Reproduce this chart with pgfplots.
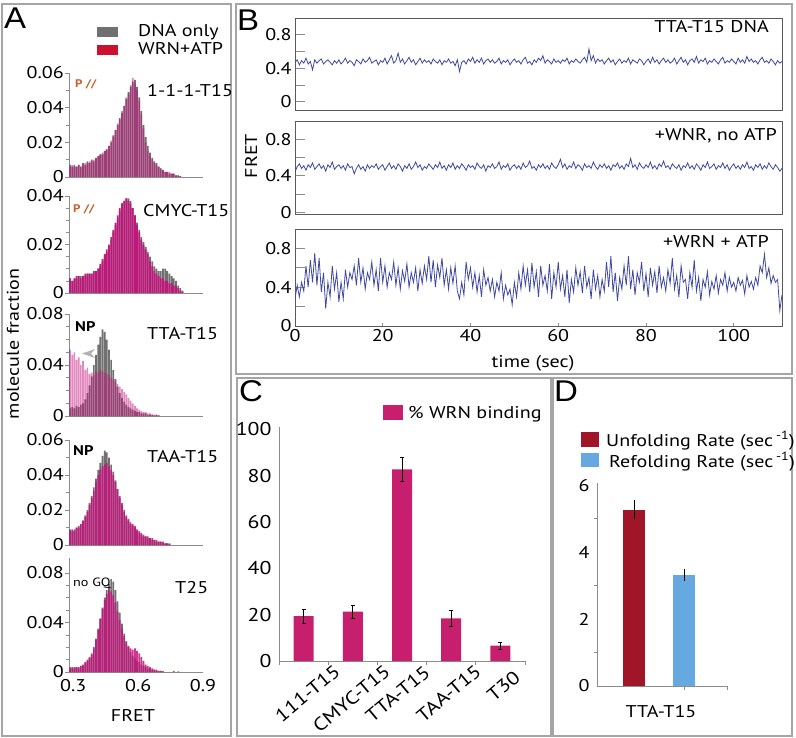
\documentclass[border=0pt]{standalone}
\usepackage{pgfplots}
\pgfplotsset{compat=1.18}
\usepackage{pgfplotstable}
\usepackage{fontspec}
\setmainfont{PT Sans}[FakeStretch=1.18]
\newfontfamily\letterfont{Liberation Sans}[FakeStretch=1.1]
\newcommand\fs{\fontsize{17}{19}\selectfont}
\newcommand\fc{\fontsize{18.5}{20}\selectfont}
\definecolor{dnagray}{RGB}{112,112,112}
\definecolor{wrnmag}{RGB}{196,20,124}
\definecolor{legred}{RGB}{204,16,48}
\definecolor{barmag}{RGB}{200,30,110}
\definecolor{unfold}{RGB}{160,22,40}
\definecolor{refold}{RGB}{102,168,224}
\definecolor{trace}{RGB}{62,72,160}
\definecolor{axgray}{RGB}{140,140,140}
\definecolor{boxgray}{RGB}{90,90,90}
\definecolor{framegray}{RGB}{165,165,165}
\definecolor{pcol}{RGB}{200,96,44}

\pgfplotstableread{
x g m
0.285 0.007 0.006
0.295 0.006 0.007
0.305 0.007 0.006
0.315 0.006 0.006
0.325 0.007 0.007
0.335 0.006 0.006
0.345 0.008 0.007
0.355 0.007 0.008
0.365 0.009 0.008
0.375 0.008 0.009
0.385 0.010 0.009
0.395 0.009 0.010
0.405 0.011 0.011
0.415 0.012 0.012
0.425 0.013 0.013
0.435 0.013 0.014
0.445 0.015 0.015
0.455 0.016 0.016
0.465 0.018 0.018
0.475 0.020 0.021
0.485 0.024 0.023
0.495 0.027 0.027
0.505 0.030 0.031
0.515 0.034 0.033
0.525 0.037 0.038
0.535 0.041 0.041
0.545 0.045 0.046
0.555 0.049 0.048
0.565 0.052 0.053
0.575 0.055 0.057
0.585 0.056 0.054
0.595 0.052 0.050
0.605 0.046 0.044
0.615 0.038 0.036
0.625 0.030 0.028
0.635 0.023 0.020
0.645 0.018 0.015
0.655 0.014 0.012
0.665 0.011 0.010
0.675 0.009 0.008
0.685 0.008 0.007
0.695 0.006 0.006
0.705 0.005 0.005
0.715 0.004 0.004
0.725 0.003 0.003
0.735 0.003 0.003
0.745 0.002 0.003
0.755 0.002 0.002
0.765 0.002 0.002
0.775 0.001 0.001
0.785 0.001 0.001
0.795 0.0005 0.0005
}\hA

\pgfplotstableread{
x g m
0.285 0.006 0.006
0.295 0.005 0.005
0.305 0.006 0.006
0.315 0.006 0.007
0.325 0.007 0.007
0.335 0.007 0.006
0.345 0.007 0.007
0.355 0.007 0.008
0.365 0.008 0.008
0.375 0.008 0.008
0.385 0.008 0.008
0.395 0.009 0.009
0.405 0.009 0.009
0.415 0.010 0.010
0.425 0.011 0.012
0.435 0.013 0.014
0.445 0.015 0.016
0.455 0.017 0.018
0.465 0.019 0.020
0.475 0.022 0.023
0.485 0.025 0.026
0.495 0.028 0.029
0.505 0.031 0.032
0.515 0.034 0.035
0.525 0.037 0.037
0.535 0.038 0.038
0.545 0.039 0.039
0.555 0.039 0.038
0.565 0.038 0.037
0.575 0.035 0.035
0.585 0.032 0.032
0.595 0.029 0.028
0.605 0.026 0.025
0.615 0.023 0.022
0.625 0.021 0.020
0.635 0.019 0.018
0.645 0.017 0.016
0.655 0.015 0.013
0.665 0.013 0.011
0.675 0.011 0.009
0.685 0.010 0.008
0.695 0.009 0.007
0.705 0.009 0.006
0.715 0.010 0.006
0.725 0.010 0.005
0.735 0.009 0.005
0.745 0.008 0.004
0.755 0.007 0.004
0.765 0.006 0.003
0.775 0.005 0.003
0.785 0.003 0.002
0.795 0.002 0.001
0.805 0.001 0.0005
}\hB

\pgfplotstableread{
x g m
0.285 0.006 0.052
0.295 0.007 0.048
0.305 0.006 0.050
0.315 0.008 0.044
0.325 0.007 0.046
0.335 0.009 0.040
0.345 0.010 0.043
0.355 0.013 0.036
0.365 0.018 0.038
0.375 0.024 0.033
0.385 0.031 0.034
0.395 0.040 0.032
0.405 0.048 0.035
0.415 0.056 0.034
0.425 0.062 0.036
0.435 0.068 0.035
0.445 0.066 0.034
0.455 0.060 0.033
0.465 0.052 0.032
0.475 0.044 0.030
0.485 0.036 0.029
0.495 0.029 0.027
0.505 0.023 0.025
0.515 0.018 0.023
0.525 0.014 0.021
0.535 0.011 0.019
0.545 0.009 0.017
0.555 0.007 0.014
0.565 0.006 0.012
0.575 0.005 0.010
0.585 0.004 0.008
0.595 0.003 0.006
0.605 0.003 0.005
0.615 0.002 0.004
0.625 0.002 0.003
0.635 0.002 0.003
0.645 0.001 0.002
0.655 0.001 0.002
0.665 0.001 0.001
0.675 0.0005 0.001
0.685 0.001 0.0005
0.695 0.0005 0.0005
}\hC

\pgfplotstableread{
x g m
0.285 0.008 0.009
0.295 0.009 0.008
0.305 0.008 0.009
0.315 0.010 0.010
0.325 0.010 0.011
0.335 0.012 0.012
0.345 0.014 0.014
0.355 0.017 0.016
0.365 0.020 0.019
0.375 0.024 0.023
0.385 0.028 0.027
0.395 0.033 0.031
0.405 0.038 0.036
0.415 0.043 0.040
0.425 0.047 0.043
0.435 0.051 0.045
0.445 0.054 0.046
0.455 0.053 0.047
0.465 0.050 0.045
0.475 0.046 0.043
0.485 0.042 0.040
0.495 0.037 0.036
0.505 0.032 0.032
0.515 0.027 0.028
0.525 0.023 0.024
0.535 0.019 0.020
0.545 0.016 0.017
0.555 0.014 0.015
0.565 0.012 0.013
0.575 0.011 0.012
0.585 0.010 0.011
0.595 0.008 0.009
0.605 0.007 0.008
0.615 0.006 0.007
0.625 0.005 0.006
0.635 0.005 0.005
0.645 0.004 0.005
0.655 0.004 0.004
0.665 0.003 0.004
0.675 0.003 0.003
0.685 0.002 0.003
0.695 0.002 0.002
0.705 0.002 0.002
0.715 0.001 0.002
0.725 0.001 0.001
0.735 0.001 0.001
0.745 0.0005 0.001
}\hD

\pgfplotstableread{
x g m
0.285 0.004 0.003
0.295 0.003 0.004
0.305 0.004 0.003
0.315 0.004 0.004
0.325 0.003 0.004
0.335 0.005 0.005
0.345 0.005 0.006
0.355 0.007 0.008
0.365 0.009 0.010
0.375 0.011 0.012
0.385 0.014 0.015
0.395 0.019 0.020
0.405 0.026 0.027
0.415 0.034 0.035
0.425 0.043 0.043
0.435 0.052 0.051
0.445 0.060 0.058
0.455 0.066 0.063
0.465 0.071 0.066
0.475 0.075 0.065
0.485 0.073 0.062
0.495 0.066 0.056
0.505 0.057 0.049
0.515 0.048 0.042
0.525 0.039 0.035
0.535 0.031 0.029
0.545 0.025 0.024
0.555 0.020 0.021
0.565 0.016 0.019
0.575 0.013 0.018
0.585 0.011 0.019
0.595 0.009 0.017
0.605 0.008 0.015
0.615 0.006 0.012
0.625 0.005 0.009
0.635 0.004 0.006
0.645 0.003 0.005
0.655 0.003 0.004
0.665 0.002 0.003
0.675 0.002 0.002
0.685 0.001 0.002
0.695 0.001 0.001
0.705 0.001 0.001
0.715 0.0005 0.0005
0.765 0.001 0
0.785 0.0005 0
}\hE

\pgfplotsset{
 base/.style={scale only axis, anchor=south west,
   /pgf/number format/assume math mode=true,
   tick label style={font=\fs}, scaled ticks=false,
   /pgf/number format/fixed},
 histA/.style={base, width=134pt, xmin=0.28, xmax=0.9, ymin=0,
   axis x line=bottom, axis y line=left,
   axis line style={-, draw=axgray, line width=0.8pt},
   xtick=\empty, tick align=outside,
   major tick length=4pt, minor tick length=3pt,
   tick style={draw=axgray, line width=0.6pt},
   yticklabel style={inner sep=1pt, /pgf/number format/precision=2}},
 gbar/.style={ybar, bar shift=0pt, bar width=0.0078, fill=dnagray, draw=none},
 mbar/.style={ybar, bar shift=0pt, bar width=0.0078, fill=wrnmag, draw=none, fill opacity=#1},
 traceB/.style={base, width=487pt, xmin=0, xmax=111,
   axis line style={draw=boxgray, line width=0.8pt},
   ytick={0,0.4,0.8}, minor ytick={0.2,0.6}, ytick pos=left,
   tick align=inside, major tick length=10pt, minor tick length=10pt,
   tick style={draw=axgray, line width=0.6pt},
   yticklabel style={/pgf/number format/precision=1}},
}

\begin{document}
\begin{tikzpicture}
\path[use as bounding box] (0pt,0pt) rectangle (796pt,-738pt);
% panel frames
\draw[framegray, line width=1.2pt] (2pt,-4pt) rectangle (231pt,-736pt);
\draw[framegray, line width=1.2pt] (236pt,-4pt) rectangle (792pt,-374pt);
\draw[framegray, line width=1.2pt] (237pt,-378pt) rectangle (551pt,-736pt);
\draw[framegray, line width=1.2pt] (553pt,-378pt) rectangle (792pt,-736pt);
% panel letters
\node[font=\letterfont\fontsize{30}{30}\selectfont, anchor=base west, inner sep=0pt] at (4pt,-29pt) {A};
\node[font=\letterfont\fontsize{30}{30}\selectfont, anchor=base west, inner sep=0pt] at (237pt,-31pt) {B};
\node[font=\letterfont\fontsize{30}{30}\selectfont, anchor=base west, inner sep=0pt] at (239pt,-402pt) {C};
\node[font=\letterfont\fontsize{30}{30}\selectfont, anchor=base west, inner sep=0pt] at (554pt,-402pt) {D};

% ---------------- Panel A ----------------
\fill[dnagray] (97pt,-27pt) rectangle (118pt,-37pt);
\fill[legred] (97pt,-45pt) rectangle (118pt,-55pt);
\node[font=\fs, anchor=base west, inner sep=0pt] at (138pt,-37pt) {DNA only};
\node[font=\fs, anchor=base west, inner sep=0pt] at (138pt,-55pt) {WRN+ATP};

\begin{axis}[histA, at={(69pt,-177pt)}, height=104pt, ymax=0.06,
  ytick={0,0.02,0.04,0.06}, minor ytick={0.01,0.03,0.05}]
\addplot[gbar] table[x=x,y=g]{\hA};
\addplot[mbar=0.55] table[x=x,y=m]{\hA};
\end{axis}
\node[font=\bfseries\fontsize{11}{11}\selectfont, text=pcol, anchor=base west, inner sep=0pt] at (75pt,-88pt) {P //};
\node[font=\fs, anchor=base west, inner sep=0pt] at (147pt,-97pt) {1-1-1-T15};

\begin{axis}[histA, at={(69pt,-293pt)}, height=97pt, ymax=0.04,
  ytick={0,0.02,0.04}, minor ytick={0.005,0.01,0.015,0.025,0.03,0.035}]
\addplot[gbar] table[x=x,y=g]{\hB};
\addplot[mbar=0.95] table[x=x,y=m]{\hB};
\end{axis}
\node[font=\bfseries\fontsize{11}{11}\selectfont, text=pcol, anchor=base west, inner sep=0pt] at (73pt,-213pt) {P //};
\node[font=\fs, anchor=base west, inner sep=0pt] at (143pt,-217pt) {CMYC-T15};

\begin{axis}[histA, at={(69pt,-416pt)}, height=102pt, ymax=0.08,
  ytick={0,0.04,0.08}, minor ytick={0.01,0.02,0.03,0.05,0.06,0.07}]
\addplot[gbar] table[x=x,y=g]{\hC};
\addplot[mbar=0.5] table[x=x,y=m]{\hC};
\end{axis}
\node[font=\bfseries\fontsize{14}{14}\selectfont, anchor=base west, inner sep=0pt] at (75pt,-331pt) {NP};
\node[font=\fs, anchor=base west, inner sep=0pt] at (147pt,-340pt) {TTA-T15};
\fill[gray!60] (95pt,-349pt) -- (82pt,-353.5pt) -- (95pt,-358pt) -- (91pt,-353.5pt) -- cycle;

\begin{axis}[histA, at={(69pt,-545pt)}, height=105pt, ymax=0.06,
  ytick={0,0.02,0.04,0.06}, minor ytick={0.01,0.03,0.05}]
\addplot[gbar] table[x=x,y=g]{\hD};
\addplot[mbar=0.85] table[x=x,y=m]{\hD};
\end{axis}
\node[font=\bfseries\fontsize{14}{14}\selectfont, anchor=base west, inner sep=0pt] at (73pt,-455pt) {NP};
\node[font=\fs, anchor=base west, inner sep=0pt] at (147pt,-462pt) {TAA-T15};

\begin{axis}[histA, at={(69pt,-672pt)}, height=114pt, ymax=0.092,
  ytick={0,0.04,0.08}, minor ytick={0.01,0.02,0.03,0.05,0.06,0.07},
  xtick={0.3,0.6,0.9}, major x tick style={draw=none},
  xticklabel style={/pgf/number format/precision=1}]
\addplot[gbar] table[x=x,y=g]{\hE};
\addplot[mbar=0.85] table[x=x,y=m]{\hE};
\end{axis}
\node[font=\fontsize{12}{12}\selectfont, anchor=base west, inner sep=0pt] at (73pt,-586pt) {no GQ};
\node[font=\fs, anchor=base west, inner sep=0pt] at (175pt,-593pt) {T25};
\node[font=\fs] at (133pt,-715pt) {FRET};
\node[font=\fs, rotate=90] at (13pt,-344pt) {molecule fraction};

% ---------------- Panel B ----------------
\begin{axis}[traceB, at={(295pt,-110pt)}, height=92pt, ymin=-0.1, ymax=1, xtick=\empty]
\addplot[trace, line width=0.8pt] coordinates {
(0,0.47)(0.5,0.50)(1,0.44)(1.5,0.49)(2,0.46)(2.5,0.52)(3,0.45)(3.5,0.48)(4,0.38)(4.5,0.50)
(5,0.46)(5.5,0.49)(6,0.51)(6.5,0.45)(7,0.48)(7.5,0.50)(8,0.47)(8.5,0.44)(9,0.49)(9.5,0.46)
(10,0.50)(10.5,0.45)(11,0.48)(11.5,0.52)(12,0.46)(12.5,0.49)(13,0.47)(13.5,0.43)(14,0.50)(14.5,0.48)
(15,0.45)(15.5,0.51)(16,0.47)(16.5,0.49)(17,0.53)(17.5,0.46)(18,0.48)(18.5,0.50)(19,0.44)(19.5,0.49)
(20,0.47)(20.5,0.52)(21,0.45)(21.5,0.50)(22,0.55)(22.5,0.46)(23,0.49)(23.5,0.58)(24,0.47)(24.5,0.51)
(25,0.45)(25.5,0.49)(26,0.53)(26.5,0.47)(27,0.50)(27.5,0.44)(28,0.48)(28.5,0.52)(29,0.46)(29.5,0.50)
(30,0.47)(30.5,0.49)(31,0.45)(31.5,0.51)(32,0.48)(32.5,0.46)(33,0.50)(33.5,0.44)(34,0.49)(34.5,0.47)
(35,0.51)(35.5,0.46)(36,0.48)(36.5,0.43)(37,0.50)(37.5,0.36)(38,0.47)(38.5,0.49)(39,0.45)(39.5,0.51)
(40,0.48)(40.5,0.53)(41,0.46)(41.5,0.50)(42,0.47)(42.5,0.52)(43,0.45)(43.5,0.49)(44,0.51)(44.5,0.47)
(45,0.50)(45.5,0.46)(46,0.48)(46.5,0.52)(47,0.45)(47.5,0.49)(48,0.47)(48.5,0.50)(49,0.44)(49.5,0.48)
(50,0.51)(50.5,0.47)(51,0.49)(51.5,0.45)(52,0.50)(52.5,0.53)(53,0.46)(53.5,0.48)(54,0.44)(54.5,0.50)
(55,0.47)(55.5,0.52)(56,0.49)(56.5,0.55)(57,0.46)(57.5,0.50)(58,0.48)(58.5,0.45)(59,0.51)(59.5,0.47)
(60,0.49)(60.5,0.46)(61,0.50)(61.5,0.48)(62,0.52)(62.5,0.45)(63,0.49)(63.5,0.47)(64,0.51)(64.5,0.48)
(65,0.46)(65.5,0.50)(66,0.53)(66.5,0.47)(67,0.63)(67.5,0.49)(68,0.55)(68.5,0.46)(69,0.51)(69.5,0.48)
(70,0.50)(70.5,0.45)(71,0.49)(71.5,0.52)(72,0.47)(72.5,0.50)(73,0.44)(73.5,0.48)(74,0.51)(74.5,0.46)
(75,0.49)(75.5,0.47)(76,0.52)(76.5,0.45)(77,0.50)(77.5,0.48)(78,0.46)(78.5,0.51)(79,0.49)(79.5,0.44)
(80,0.48)(80.5,0.51)(81,0.46)(81.5,0.53)(82,0.47)(82.5,0.50)(83,0.45)(83.5,0.49)(84,0.52)(84.5,0.47)
(85,0.50)(85.5,0.46)(86,0.48)(86.5,0.52)(87,0.45)(87.5,0.49)(88,0.53)(88.5,0.47)(89,0.50)(89.5,0.44)
(90,0.49)(90.5,0.51)(91,0.47)(91.5,0.54)(92,0.46)(92.5,0.50)(93,0.48)(93.5,0.52)(94,0.45)(94.5,0.49)
(95,0.47)(95.5,0.51)(96,0.48)(96.5,0.45)(97,0.50)(97.5,0.53)(98,0.46)(98.5,0.49)(99,0.47)(99.5,0.51)
(100,0.48)(100.5,0.45)(101,0.52)(101.5,0.47)(102,0.50)(102.5,0.46)(103,0.54)(103.5,0.48)(104,0.51)(104.5,0.47)
(105,0.49)(105.5,0.45)(106,0.50)(106.5,0.53)(107,0.47)(107.5,0.49)(108,0.46)(108.5,0.51)(109,0.48)(109.5,0.44)
(110,0.49)(110.5,0.46)(111,0.48)};
\end{axis}
\node[font=\fs, anchor=base east, inner sep=0pt] at (769pt,-33pt) {TTA-T15 DNA};

\begin{axis}[traceB, at={(295pt,-214pt)}, height=93pt, ymin=-0.02, ymax=1, xtick=\empty]
\addplot[trace, line width=0.8pt] coordinates {
(0,0.44)(0.5,0.50)(1,0.53)(1.5,0.48)(2,0.51)(2.5,0.46)(3,0.52)(3.5,0.49)(4,0.54)(4.5,0.47)
(5,0.50)(5.5,0.53)(6,0.48)(6.5,0.51)(7,0.45)(7.5,0.52)(8,0.49)(8.5,0.55)(9,0.47)(9.5,0.50)
(10,0.52)(10.5,0.48)(11,0.51)(11.5,0.46)(12,0.53)(12.5,0.49)(13,0.50)(13.5,0.42)(14,0.48)(14.5,0.52)
(15,0.47)(15.5,0.50)(16,0.45)(16.5,0.52)(17,0.48)(17.5,0.51)(18,0.49)(18.5,0.53)(19,0.47)(19.5,0.50)
(20,0.52)(20.5,0.46)(21,0.50)(21.5,0.54)(22,0.48)(22.5,0.51)(23,0.47)(23.5,0.53)(24,0.50)(24.5,0.45)
(25,0.51)(25.5,0.48)(26,0.53)(26.5,0.47)(27,0.50)(27.5,0.55)(28,0.49)(28.5,0.52)(29,0.46)(29.5,0.50)
(30,0.48)(30.5,0.53)(31,0.50)(31.5,0.47)(32,0.52)(32.5,0.49)(33,0.55)(33.5,0.48)(34,0.51)(34.5,0.46)
(35,0.52)(35.5,0.49)(36,0.54)(36.5,0.47)(37,0.51)(37.5,0.48)(38,0.53)(38.5,0.50)(39,0.46)(39.5,0.52)
(40,0.49)(40.5,0.51)(41,0.47)(41.5,0.54)(42,0.50)(42.5,0.48)(43,0.52)(43.5,0.45)(44,0.51)(44.5,0.49)
(45,0.53)(45.5,0.48)(46,0.50)(46.5,0.55)(47,0.47)(47.5,0.51)(48,0.49)(48.5,0.53)(49,0.46)(49.5,0.50)
(50,0.52)(50.5,0.48)(51,0.51)(51.5,0.47)(52,0.54)(52.5,0.49)(53,0.51)(53.5,0.56)(54,0.48)(54.5,0.50)
(55,0.46)(55.5,0.52)(56,0.49)(56.5,0.53)(57,0.48)(57.5,0.51)(58,0.47)(58.5,0.54)(59,0.50)(59.5,0.48)
(60,0.52)(60.5,0.58)(61,0.49)(61.5,0.53)(62,0.47)(62.5,0.51)(63,0.49)(63.5,0.55)(64,0.48)(64.5,0.52)
(65,0.50)(65.5,0.46)(66,0.53)(66.5,0.49)(67,0.51)(67.5,0.48)(68,0.55)(68.5,0.50)(69,0.47)(69.5,0.52)
(70,0.49)(70.5,0.53)(71,0.48)(71.5,0.51)(72,0.46)(72.5,0.52)(73,0.50)(73.5,0.54)(74,0.48)(74.5,0.51)
(75,0.47)(75.5,0.53)(76,0.50)(76.5,0.59)(77,0.49)(77.5,0.52)(78,0.47)(78.5,0.54)(79,0.50)(79.5,0.48)
(80,0.52)(80.5,0.49)(81,0.55)(81.5,0.48)(82,0.51)(82.5,0.47)(83,0.53)(83.5,0.50)(84,0.56)(84.5,0.49)
(85,0.51)(85.5,0.47)(86,0.53)(86.5,0.50)(87,0.48)(87.5,0.52)(88,0.46)(88.5,0.51)(89,0.49)(89.5,0.54)
(90,0.48)(90.5,0.51)(91,0.47)(91.5,0.53)(92,0.50)(92.5,0.46)(93,0.52)(93.5,0.49)(94,0.55)(94.5,0.48)
(95,0.50)(95.5,0.53)(96,0.47)(96.5,0.51)(97,0.49)(97.5,0.54)(98,0.48)(98.5,0.52)(99,0.46)(99.5,0.50)
(100,0.53)(100.5,0.48)(101,0.51)(101.5,0.47)(102,0.52)(102.5,0.49)(103,0.55)(103.5,0.48)(104,0.50)(104.5,0.46)
(105,0.52)(105.5,0.49)(106,0.53)(106.5,0.47)(107,0.51)(107.5,0.48)(108,0.54)(108.5,0.50)(109,0.47)(109.5,0.52)
(110,0.49)(110.5,0.45)(111,0.48)};
\end{axis}
\node[font=\fs, anchor=base east, inner sep=0pt] at (777pt,-141pt) {+WNR, no ATP};

\begin{axis}[traceB, at={(295pt,-326pt)}, height=97pt, ymin=0, ymax=1,
  xtick={0,20,40,60,80,100}, xtick pos=bottom, major x tick style={/pgfplots/major tick length=3pt}]
\addplot[trace, line width=0.8pt] coordinates {
(0,0.28)(0.5,0.42)(1,0.30)(1.5,0.45)(2,0.36)(2.5,0.62)(3,0.40)(3.5,0.68)(4,0.45)(4.5,0.75)
(5,0.42)(5.5,0.70)(6,0.35)(6.5,0.55)(7,0.18)(7.5,0.45)(8,0.30)(8.5,0.62)(9,0.38)(9.5,0.55)
(10,0.25)(10.5,0.45)(11,0.28)(11.5,0.58)(12,0.40)(12.5,0.55)(13,0.48)(13.5,0.62)(14,0.42)(14.5,0.70)
(15,0.45)(15.5,0.60)(16,0.38)(16.5,0.55)(17,0.48)(17.5,0.66)(18,0.42)(18.5,0.58)(19,0.36)(19.5,0.70)
(20,0.45)(20.5,0.62)(21,0.40)(21.5,0.55)(22,0.48)(22.5,0.66)(23,0.42)(23.5,0.60)(24,0.38)(24.5,0.57)
(25,0.46)(25.5,0.64)(26,0.40)(26.5,0.55)(27,0.45)(27.5,0.60)(28,0.36)(28.5,0.58)(29,0.44)(29.5,0.62)
(30,0.48)(30.5,0.72)(31,0.45)(31.5,0.68)(32,0.40)(32.5,0.63)(33,0.50)(33.5,0.70)(34,0.42)(34.5,0.58)
(35,0.38)(35.5,0.60)(36,0.44)(36.5,0.62)(37,0.36)(37.5,0.28)(38,0.45)(38.5,0.32)(39,0.66)(39.5,0.48)
(40,0.60)(40.5,0.40)(41,0.55)(41.5,0.35)(42,0.52)(42.5,0.30)(43,0.58)(43.5,0.42)(44,0.50)(44.5,0.36)
(45,0.48)(45.5,0.30)(46,0.45)(46.5,0.36)(47,0.55)(47.5,0.28)(48,0.42)(48.5,0.32)(49,0.38)(49.5,0.22)
(50,0.45)(50.5,0.30)(51,0.55)(51.5,0.38)(52,0.62)(52.5,0.42)(53,0.58)(53.5,0.35)(54,0.65)(54.5,0.40)
(55,0.56)(55.5,0.30)(56,0.62)(56.5,0.42)(57,0.52)(57.5,0.36)(58,0.64)(58.5,0.28)(59,0.55)(59.5,0.40)
(60,0.66)(60.5,0.38)(61,0.52)(61.5,0.30)(62,0.58)(62.5,0.24)(63,0.48)(63.5,0.35)(64,0.60)(64.5,0.42)
(65,0.56)(65.5,0.34)(66,0.62)(66.5,0.40)(67,0.50)(67.5,0.28)(68,0.58)(68.5,0.38)(69,0.52)(69.5,0.30)
(70,0.48)(70.5,0.36)(71,0.66)(71.5,0.40)(72,0.72)(72.5,0.35)(73,0.55)(73.5,0.26)(74,0.50)(74.5,0.38)
(75,0.62)(75.5,0.42)(76,0.72)(76.5,0.38)(77,0.58)(77.5,0.32)(78,0.55)(78.5,0.45)(79,0.66)(79.5,0.36)
(80,0.54)(80.5,0.30)(81,0.60)(81.5,0.42)(82,0.56)(82.5,0.34)(83,0.62)(83.5,0.40)(84,0.50)(84.5,0.36)
(85,0.58)(85.5,0.44)(86,0.70)(86.5,0.38)(87,0.52)(87.5,0.30)(88,0.62)(88.5,0.45)(89,0.48)(89.5,0.28)
(90,0.55)(90.5,0.40)(91,0.68)(91.5,0.36)(92,0.50)(92.5,0.26)(93,0.48)(93.5,0.40)(94,0.56)(94.5,0.32)
(95,0.46)(95.5,0.38)(96,0.52)(96.5,0.34)(97,0.48)(97.5,0.42)(98,0.55)(98.5,0.36)(99,0.50)(99.5,0.40)
(100,0.45)(100.5,0.36)(101,0.50)(101.5,0.42)(102,0.47)(102.5,0.33)(103,0.52)(103.5,0.40)(104,0.46)(104.5,0.38)
(105,0.50)(105.5,0.42)(106,0.62)(106.5,0.55)(107,0.74)(107.5,0.50)(108,0.60)(108.5,0.44)(109,0.52)(109.5,0.45)
(110,0.48)(110.5,0.16)(111,0.32)};
\end{axis}
\node[font=\fs, anchor=base east, inner sep=0pt] at (769pt,-248pt) {+WRN + ATP};
\node[font=\fs] at (533pt,-363pt) {time (sec)};
\node[font=\fs, rotate=90] at (251pt,-156pt) {FRET};

% ---------------- Panel C ----------------
\fill[barmag] (383pt,-405pt) rectangle (403pt,-420pt);
\node[font=\fs, anchor=base west, inner sep=0pt] at (408pt,-418pt) {\% WRN binding};
\begin{axis}[base, at={(279pt,-661pt)}, width=246pt, height=234pt,
  xmin=-0.5, xmax=4.5, ymin=0, ymax=101,
  axis x line=bottom, axis y line=left,
  axis line style={-, draw=axgray, line width=0.8pt},
  ytick={0,20,40,60,80,100}, major y tick style={draw=none},
  yticklabel style={font=\fc},
  xtick={-0.5,0.5,1.5,2.5,3.5,4.5}, xticklabels={},
  tick align=outside, major tick length=4pt,
  major x tick style={draw=axgray, line width=0.6pt}]
\addplot[ybar, bar shift=0pt, bar width=20pt, fill=barmag, draw=none,
  error bars/.cd, y dir=both, y explicit,
  error bar style={black, line width=0.8pt},
  error mark options={rotate=90, black, line width=0.8pt, mark size=2pt}]
 coordinates {(0,19.4) +- (0,3.0) (1,21.3) +- (0,2.7) (2,82.7) +- (0,5.2) (3,18.4) +- (0,3.4) (4,6.6) +- (0,1.4)};
\end{axis}
\node[font=\fc, rotate=40, anchor=north east, inner sep=0pt] at (333pt,-663pt) {111-T15};
\node[font=\fc, rotate=40, anchor=north east, inner sep=0pt] at (383pt,-663pt) {CMYC-T15};
\node[font=\fc, rotate=40, anchor=north east, inner sep=0pt] at (423pt,-664pt) {TTA-T15};
\node[font=\fc, rotate=40, anchor=north east, inner sep=0pt] at (474pt,-663pt) {TAA-T15};
\node[font=\fc, rotate=40, anchor=north east, inner sep=0pt] at (513pt,-669pt) {T30};

% ---------------- Panel D ----------------
\fill[unfold] (581pt,-432pt) rectangle (599pt,-447pt);
\fill[refold] (581pt,-453pt) rectangle (599pt,-467pt);
\node[font=\fs, anchor=base west, inner sep=0pt] at (606pt,-446pt) {Unfolding Rate (sec\,\textsuperscript{-1})};
\node[font=\fs, anchor=base west, inner sep=0pt] at (609pt,-467pt) {Refolding Rate (sec\,\textsuperscript{-1})};
\begin{axis}[base, at={(597pt,-686pt)}, width=130pt, height=203pt,
  xmin=0, xmax=1, ymin=0, ymax=6.07,
  axis x line=bottom, axis y line=left,
  axis line style={-, draw=axgray, line width=0.8pt},
  ytick={0,2,4,6}, minor ytick={1,3,5},
  major y tick style={draw=none}, minor y tick style={draw=axgray, line width=0.6pt},
  xtick={0.669,1}, xticklabels={},
  tick align=outside, major tick length=4pt, minor tick length=3pt,
  major x tick style={draw=axgray, line width=0.6pt}]
\addplot[ybar, bar shift=0pt, bar width=22pt, fill=unfold, draw=none,
  error bars/.cd, y dir=both, y explicit, error mark=none,
  error bar style={black, line width=0.9pt}]
 coordinates {(0.288,5.27) +- (0,0.29)};
\addplot[ybar, bar shift=0pt, bar width=22pt, fill=refold, draw=none,
  error bars/.cd, y dir=both, y explicit, error mark=none,
  error bar style={black, line width=0.9pt}]
 coordinates {(0.671,3.32) +- (0,0.18)};
\end{axis}
\node[font=\fs] at (661pt,-712pt) {TTA-T15};
\end{tikzpicture}
\end{document}
